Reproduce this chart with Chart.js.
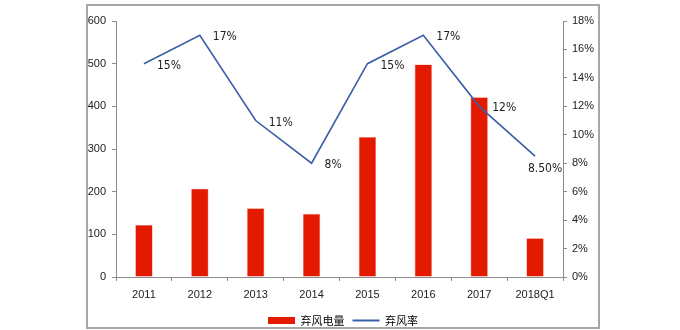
<!DOCTYPE html>
<html>
<head>
<meta charset="utf-8">
<script src="https://cdn.jsdelivr.net/npm/chart.js@4/dist/chart.umd.min.js"></script>
<style>
  body { margin: 0; background: #fff; }
  #frame {
    position: absolute; left: 86px; top: 4px;
    width: 510px; height: 321px;
    border: 2px solid #a6a6a6;
  }
  #myChart { position: absolute; left: 0; top: 0; }
</style>
</head>
<body>
<div id="frame"><canvas id="myChart" width="510" height="330"></canvas></div>
<script>
const years = ["2011", "2012", "2013", "2014", "2015", "2016", "2017", "2018Q1"];
const curtailedPower = [122, 207, 161, 148, 328, 498, 421, 91];
const curtailRate = [15, 17, 11, 8, 15, 17, 12, 8.5];
const leftTicks = [0, 100, 200, 300, 400, 500, 600];
const rightTicks = [0, 2, 4, 6, 8, 10, 12, 14, 16, 18];

const axisColor = "#8c8c8c";
const tickFont = { family: "Liberation Sans", size: 11 };

// percent labels next to the line points
const rateLabels = {
  id: "rateLabels",
  afterDatasetsDraw(chart) {
    const meta = chart.getDatasetMeta(1);
    const c = chart.ctx;
    c.save();
    c.font = "12px 'DejaVu Sans Condensed'";
    c.fillStyle = "#222";
    c.textBaseline = "middle";
    meta.data.forEach(function (pt, i) {
      const v = curtailRate[i];
      const txt = Number.isInteger(v) ? v + "%" : v.toFixed(2) + "%";
      if (i == meta.data.length - 1) {
        c.textAlign = "center";
        c.fillText(txt, pt.x + 10, pt.y + 13);
      } else {
        c.textAlign = "left";
        c.fillText(txt, pt.x + 13, pt.y + 2);
      }
    });
    c.restore();
  },
};

new Chart(document.getElementById("myChart"), {
  data: {
    labels: years,
    datasets: [
      {
        type: "bar",
        label: "弃风电量",
        data: curtailedPower,
        backgroundColor: "#e31a00",
        borderColor: "#f07a6a",
        borderWidth: 0.6,
        barPercentage: 0.31,
        categoryPercentage: 1,
        yAxisID: "y",
        order: 2,
      },
      {
        type: "line",
        label: "弃风率",
        data: curtailRate,
        borderColor: "#3b5fa6",
        backgroundColor: "#3b5fa6",
        borderWidth: 1.6,
        pointRadius: 0,
        tension: 0,
        yAxisID: "y1",
        order: 1,
      },
    ],
  },
  options: {
    responsive: false,
    animation: false,
    layout: { padding: { top: 15, left: 0, right: 0, bottom: 0 } },
    plugins: {
      tooltip: { enabled: false },
      legend: {
        position: "bottom",
        labels: {
          font: { family: "Noto Sans CJK SC", size: 11 },
          color: "#333",
          usePointStyle: true,
          pointStyleWidth: 27,
          boxHeight: 7,
          padding: 8,
          generateLabels: function (chart) {
            return chart.data.datasets.map(function (ds, i) {
              const isLine = ds.type == "line";
              return {
                text: ds.label,
                fillStyle: ds.backgroundColor,
                strokeStyle: ds.backgroundColor,
                lineWidth: isLine ? 2 : 0,
                pointStyle: isLine ? "line" : "rect",
                datasetIndex: i,
              };
            });
          },
        },
      },
    },
    scales: {
      x: {
        grid: { drawOnChartArea: false, tickLength: 4, color: axisColor, offset: true },
        border: { color: axisColor, width: 1 },
        ticks: { font: tickFont, color: "#222", padding: 7 },
        afterFit: function (scale) { scale.height = 30; },
      },
      y: {
        position: "left",
        min: 0,
        max: 600,
        afterBuildTicks: function (scale) {
          scale.ticks = leftTicks.map(function (v) { return { value: v }; });
        },
        grid: { drawOnChartArea: false, tickLength: 4, color: axisColor },
        border: { color: axisColor, width: 1 },
        ticks: { font: tickFont, color: "#222", padding: 6 },
        afterFit: function (scale) { scale.width = 28; },
      },
      y1: {
        position: "right",
        min: 0,
        max: 18,
        afterBuildTicks: function (scale) {
          scale.ticks = rightTicks.map(function (v) { return { value: v }; });
        },
        grid: { drawOnChartArea: false, tickLength: 4, color: axisColor },
        border: { color: axisColor, width: 1 },
        ticks: {
          font: tickFont,
          color: "#222",
          padding: 5,
          callback: function (v) { return v + "%"; },
        },
        afterFit: function (scale) { scale.width = 35; },
      },
    },
  },
  plugins: [rateLabels],
});
</script>
</body>
</html>
